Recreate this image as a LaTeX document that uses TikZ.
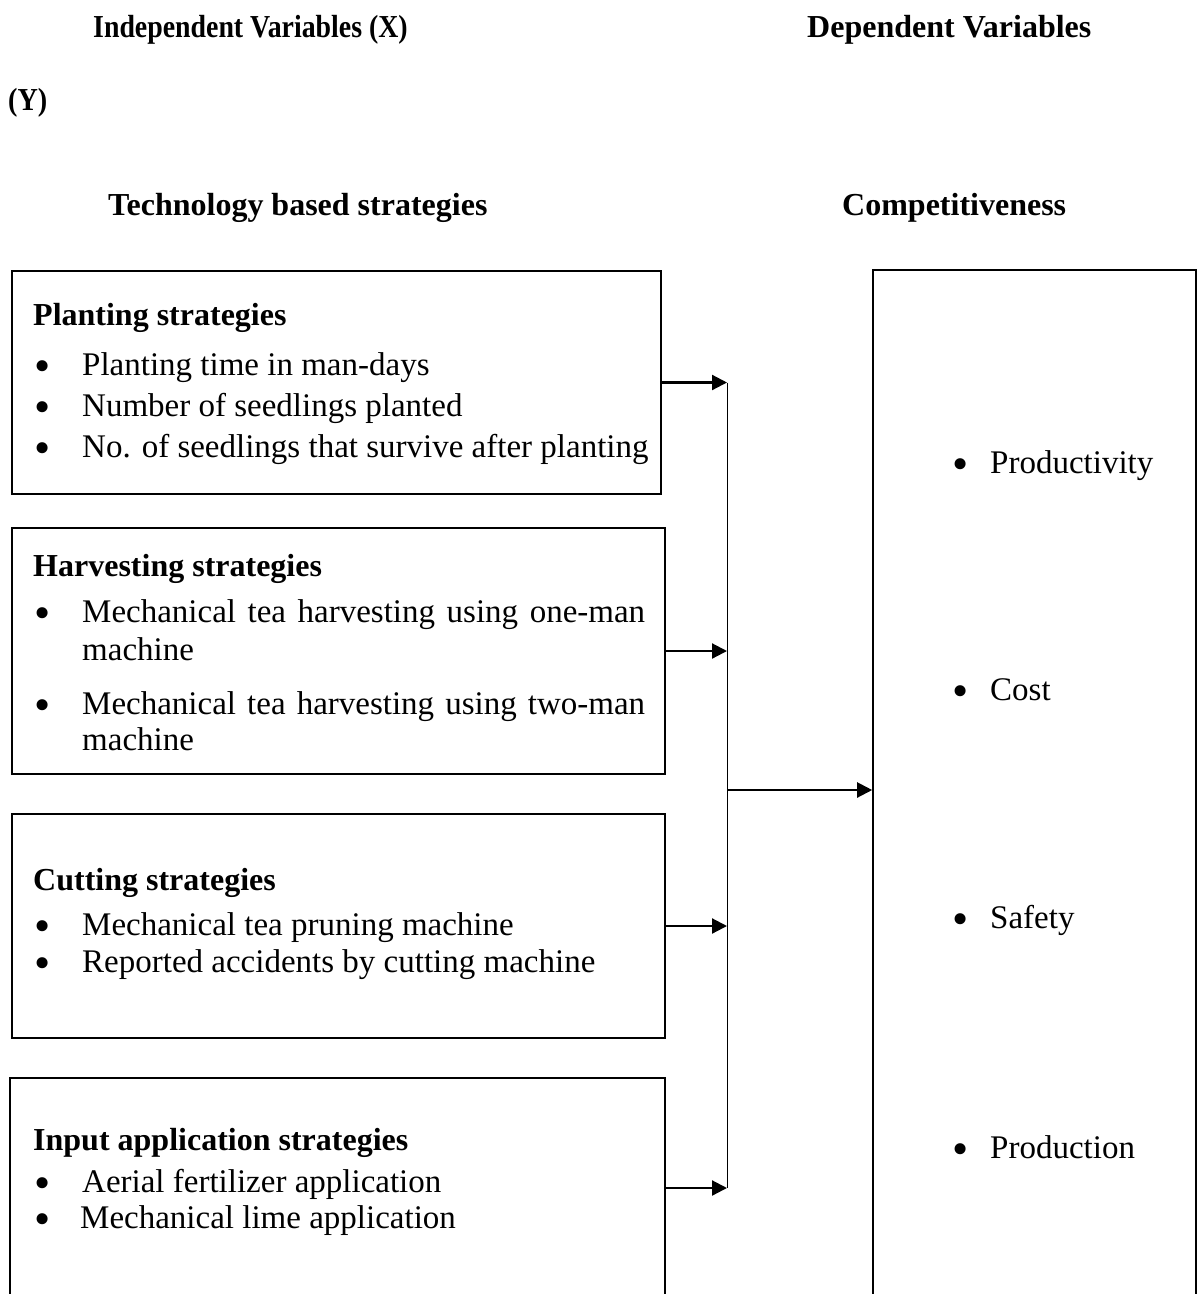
\documentclass[tikz,border=0pt]{standalone}
\usepackage{fontspec}
\usepackage{graphicx}
\setmainfont{Liberation Serif}
\usetikzlibrary{arrows.meta}
\newcommand{\bigdot}{\smash{\raisebox{-6pt}{\scalebox{1.4}{\textbullet}}}}
\newcommand{\bl}{\makebox[48pt][l]{\bigdot}}
\newcommand{\blr}{\makebox[38pt][l]{\bigdot}}
\begin{document}
\begin{tikzpicture}[x=1pt,y=-1pt,
  box/.style={draw, line width=1.6pt, inner sep=0pt},
  head/.style={anchor=base west, inner sep=0pt, font=\fontsize{32}{36}\selectfont\bfseries},
  item/.style={anchor=base west, inner sep=0pt, font=\fontsize{33}{38}\selectfont},
  arr/.style={line width=2.2pt, -{Triangle[length=15pt,width=15pt]}},
  bus/.style={line width=1pt}]
\clip (0,0) rectangle (1202,1294);
\fill[white] (0,0) rectangle (1202,1294);
% titles
\node[head] (tx) at (93,37) {\scalebox{0.87}[1]{Independent Variables (X)}};
\node[head] (ty) at (807,37) {Dependent Variables};
\node[head] (tyy) at (8,110) {\scalebox{0.88}[1]{(Y)}};
\node[head] (tl) at (108,215) {Technology based strategies};
\node[head] (tr) at (842,215) {Competitiveness};
% boxes
\node[box, minimum width=649pt, minimum height=223pt] (plant) at (336.5,382.5) {};
\node[box, minimum width=653pt, minimum height=246pt] (harv) at (338.5,651) {};
\node[box, minimum width=653pt, minimum height=224pt] (cut) at (338.5,926) {};
\node[box, minimum width=655pt, minimum height=220pt] (inp) at (337.5,1188) {};
\node[box, minimum width=323pt, minimum height=1040pt] (comp) at (1034.5,790) {};
% planting
\node[head] (ph) at (33,325) {Planting strategies};
\node[item] (p1) at (34,375) {\bl Planting time in man-days};
\node[item] (p2) at (34,416) {\bl Number of seedlings planted};
\node[item] (p3) at (34,457) {\bl No. of seedlings that survive after planting};
% harvesting
\node[head] (hh) at (33,576) {Harvesting strategies};
\node[item] (h1) at (34,622) {\bl\hbox to 563pt{Mechanical\hfill tea\hfill harvesting\hfill using\hfill one-man}};
\node[item] (h1b) at (82,660) {machine};
\node[item] (h2) at (34,714) {\bl\hbox to 563pt{Mechanical\hfill tea\hfill harvesting\hfill using\hfill two-man}};
\node[item] (h2b) at (82,750) {machine};
% cutting
\node[head] (ch) at (33,890) {Cutting strategies};
\node[item] (c1) at (34,935) {\bl Mechanical tea pruning machine};
\node[item] (c2) at (34,972) {\bl Reported accidents by cutting machine};
% input
\node[head] (ih) at (33,1150) {Input application strategies};
\node[item] (i1) at (34,1192) {\bl Aerial fertilizer application};
\node[item] (i2) at (34,1228) {\makebox[46pt][l]{\bigdot}Mechanical lime application};
% competitiveness
\node[item] (r1) at (952,473) {\blr Productivity};
\node[item] (r2) at (952,700) {\blr Cost};
\node[item] (r3) at (952,928) {\blr Safety};
\node[item] (r4) at (952,1158) {\blr Production};
% connectors
\coordinate (busx) at (727,0);
\coordinate (busmid) at (728,790);
\draw[bus] (plant.east -| busx) -- (inp.east -| busx);
\draw[arr] (plant.east) -- (plant.east -| busx);
\draw[arr] (harv.east) -- (harv.east -| busx);
\draw[arr] (cut.east) -- (cut.east -| busx);
\draw[arr] (inp.east) -- (inp.east -| busx);
\draw[arr] (busmid) -- (comp.west |- busmid);
\end{tikzpicture}
\end{document}
